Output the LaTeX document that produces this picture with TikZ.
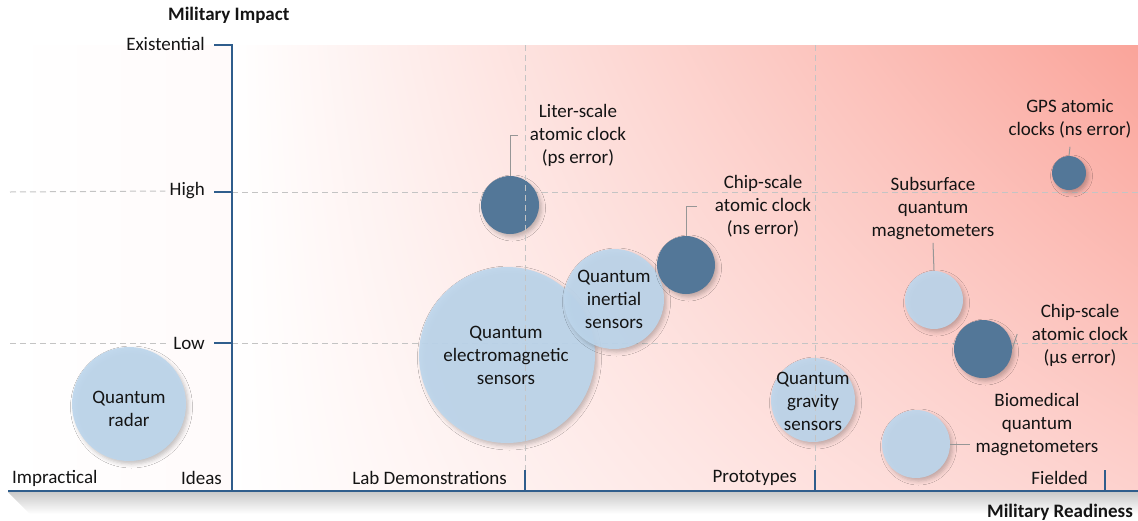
\documentclass[tikz,border=0pt]{standalone}
\usepackage{fontspec}
\setmainfont{Carlito}
\usetikzlibrary{shadows.blur,shadings}
\definecolor{axisblue}{RGB}{47,93,140}
\definecolor{lightb}{RGB}{189,214,236}
\definecolor{darkb}{RGB}{83,119,152}
\definecolor{gridc}{RGB}{196,196,196}
\definecolor{leadc}{RGB}{150,150,150}
\definecolor{txt}{RGB}{20,20,20}
\definecolor{pkA}{RGB}{250,164,154}
\definecolor{pkC}{RGB}{253,209,205}
\definecolor{pkL}{RGB}{255,250,250}
\tikzset{
  lbl/.style={font=\fontsize{19}{23}\selectfont, align=center, inner sep=0pt, text=txt},
  ttl/.style={font=\fontsize{19}{23}\selectfont\bfseries, inner sep=0pt, text=txt},
  axisline/.style={draw=axisblue, line width=2pt},
  gridl/.style={draw=gridc, line width=1pt, dash pattern=on 6pt off 4pt},
  leadl/.style={draw=leadc, line width=1pt},
  bubshadow/.style={blur shadow={shadow xshift=2.5pt, shadow yshift=-3pt, shadow blur radius=4pt, shadow opacity=25}},
  lbub/.style={circle, fill=lightb, fill opacity=0.92, minimum size=#1, inner sep=0pt, bubshadow},
  dbub/.style={circle, fill=darkb, minimum size=#1, inner sep=0pt, bubshadow},
}
\begin{document}
\begin{tikzpicture}[x=1pt,y=-1pt]
\useasboundingbox (0,0) rectangle (1138,520);
% background
\shade[left color=white, right color=pkL] (10,45) rectangle (232,490);
\shade[upper left=white, upper right=pkA, lower left=white, lower right=pkC] (232,45) rectangle (1138,490);
% axis shadow
\shade[top color=gray!42, bottom color=white] (8,492) -- (1138,492) -- (1138,514) -- (30,514) -- cycle;

% axis labels
\node[lbl, anchor=east] (exist) at (205,44) {Existential};
\node[lbl, anchor=east] (high) at (205,191) {High};
\node[lbl, anchor=east] (low) at (205,343) {Low};
\node[lbl, anchor=west] (impr) at (12,478) {Impractical};
\node[lbl, anchor=east] (ideas) at (222,478) {Ideas};
\node[lbl, anchor=east] (labd) at (507,478) {Lab Demonstrations};
\node[lbl, anchor=east] (proto) at (797,478) {Prototypes};
\node[lbl, anchor=east] (field) at (1088,478) {Fielded};
\node[ttl, anchor=west] (mimpact) at (168,15) {Military Impact};
\node[ttl, anchor=east] (mready) at (1133,512) {Military Readiness};

% horizontal grid lines
\draw[gridl] (10,192) -- ([xshift=-4pt]high.west);
\draw[gridl] (232,192) -- (1138,192);
\draw[gridl] (10,343) -- ([xshift=-4pt]low.west);
\draw[gridl] (232,343) -- (1138,343);

% bubbles
\node[lbub=114] (radar) at (129,404) {};
\node[lbub=176] (em) at (507,355) {};
\node[lbub=100] (inert) at (614,299) {};
\node[lbub=84] (grav) at (813,400) {};
\node[lbub=58] (subs) at (934,300) {};
\node[lbub=68] (bio) at (916,444) {};
\node[dbub=58] (liter) at (510,205) {};
\node[dbub=58] (chipns) at (686,265) {};
\node[dbub=34] (gps) at (1069,173) {};
\node[dbub=58] (chipus) at (983,349) {};

% vertical dashed lines
\draw[gridl] (525,45) -- (525,470);
\draw[gridl] (815,45) -- (815,470);

% bubble texts
\node[lbl] (radart) at (129,409) {Quantum\\radar};
\node[lbl] (emt) at (506,355) {Quantum\\electromagnetic\\sensors};
\node[lbl] (inertt) at (614,299) {Quantum\\inertial\\sensors};
\node[lbl] (gravt) at (813,401) {Quantum\\gravity\\sensors};

% outside labels
\node[lbl] (literl) at (578,135) {Liter-scale\\atomic clock\\(ps error)};
\node[lbl] (chipnsl) at (763,206) {Chip-scale\\atomic clock\\(ns error)};
\node[lbl] (gpsl) at (1070,119) {GPS atomic\\clocks (ns error)};
\node[lbl] (subsl) at (933,209) {Subsurface\\quantum\\magnetometers};
\node[lbl] (chipusl) at (1080,335) {Chip-scale\\atomic clock\\(µs error)};
\node[lbl] (biol) at (1037,425) {Biomedical\\quantum\\magnetometers};

% leaders
\draw[leadl] (liter.north) |- ([xshift=-12pt]literl.west);
\draw[leadl] (chipns.north) |- ([xshift=-18pt]chipnsl.west);
\draw[leadl] (gps.north) -- ++(1,-9);
\draw[leadl] (subs.north) -- ++(-1,-28);
\draw[leadl] (chipus.east) -- ++(5,-15);
\draw[leadl] (bio.east) -- ++(20,0);

% axes
\draw[axisline, line join=miter] (214,45) -- (232,45) -- (232,491);
\draw[axisline] (214,192) -- (232,192);
\draw[axisline] (214,343) -- (232,343);
\draw[axisline] (8,491) -- (1138,491);
\draw[axisline] (525,470) -- (525,491);
\draw[axisline] (815,470) -- (815,491);
\draw[axisline] (1105,470) -- (1105,491);
\end{tikzpicture}
\end{document}
